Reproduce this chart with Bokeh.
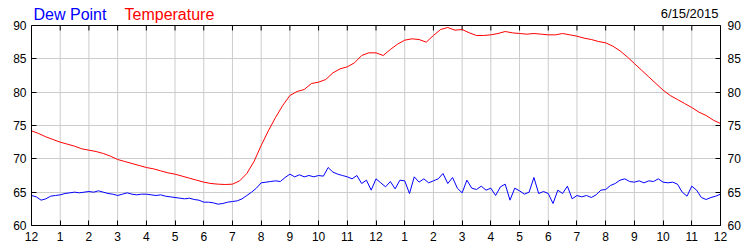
from bokeh.plotting import figure
from bokeh.models import Range1d, LinearAxis, FixedTicker, Span
from bokeh.core.properties import value
from bokeh.embed import file_html
from bokeh.resources import INLINE

# Data
date_label = "6/15/2015"
legend_names = ["Dew Point", "Temperature"]
legend_colors = ["#0000ff", "#ff0000"]
hour_ticks = list(range(0, 25))
hour_tick_labels = ["12", "1", "2", "3", "4", "5", "6", "7", "8", "9", "10", "11",
                    "12", "1", "2", "3", "4", "5", "6", "7", "8", "9", "10", "11", "12"]
temp_ticks = [60, 65, 70, 75, 80, 85, 90]

# Temperature every 15 minutes (hours 0..24)
temp_hours = [i * 0.25 for i in range(97)]
temperature = [
    74.2, 73.8, 73.3, 72.9,
    72.5, 72.2, 71.9, 71.5,
    71.3, 71.1, 70.8, 70.4,
    69.9, 69.6, 69.3, 69.0,
    68.7, 68.5, 68.2, 67.9,
    67.7, 67.4, 67.1, 66.8,
    66.5, 66.3, 66.2, 66.15,
    66.2, 66.7, 67.8, 69.6,
    72.0, 74.2, 76.2, 78.0,
    79.5, 80.1, 80.4, 81.3,
    81.5, 81.9, 82.9, 83.5,
    83.8, 84.4, 85.5, 85.9,
    85.9, 85.5, 86.4, 87.2,
    87.8, 88.0, 87.9, 87.5,
    88.5, 89.4, 89.7, 89.3,
    89.4, 88.9, 88.5, 88.5,
    88.6, 88.8, 89.1, 88.9,
    88.8, 88.7, 88.8, 88.7,
    88.6, 88.6, 88.8, 88.6,
    88.4, 88.1, 87.9, 87.6,
    87.4, 86.9, 86.2, 85.3,
    84.3, 83.3, 82.3, 81.3,
    80.3, 79.5, 78.9, 78.3,
    77.7, 77.0, 76.5, 75.8,
    75.3,
]

# Dew point every 10 minutes (hours 0..24)
dew_hours = [i / 6 for i in range(145)]
dew_point = [
    64.5, 64.3, 63.8, 64.0, 64.4, 64.5,
    64.6, 64.8, 64.9, 65.0, 64.9, 65.0,
    65.1, 65.0, 65.2, 65.0, 64.8, 64.7,
    64.5, 64.7, 64.9, 64.7, 64.6, 64.7,
    64.7, 64.6, 64.5, 64.6, 64.4, 64.3,
    64.2, 64.1, 64.0, 64.1, 63.9, 63.8,
    63.5, 63.5, 63.4, 63.2, 63.3, 63.5,
    63.6, 63.7, 64.0, 64.5, 65.0, 65.6,
    66.4, 66.5, 66.6, 66.7, 66.6, 67.2,
    67.7, 67.3, 67.6, 67.3, 67.5, 67.3,
    67.5, 67.4, 68.7, 68.0, 67.7, 67.5,
    67.3, 67.0, 67.5, 66.3, 66.8, 65.3,
    67.0, 66.4, 65.8, 66.6, 65.5, 66.8,
    66.7, 64.8, 67.3, 66.5, 67.0, 66.4,
    66.7, 67.0, 67.8, 66.3, 67.2, 65.6,
    64.9, 66.8, 65.6, 65.4, 65.9, 65.3,
    65.6, 64.5, 65.8, 66.2, 63.8, 65.6,
    65.2, 64.7, 65.0, 67.2, 64.8, 65.1,
    64.8, 63.3, 65.3, 64.8, 65.9, 64.0,
    64.5, 64.3, 64.5, 64.2, 64.6, 65.3,
    65.4, 66.0, 66.3, 66.8, 67.0, 66.6,
    66.5, 66.7, 66.4, 66.7, 66.6, 67.0,
    66.5, 66.4, 66.5, 66.2, 65.0, 64.4,
    65.9, 65.3, 64.2, 63.9, 64.2, 64.4,
    64.7,
]

FONT = "Liberation Sans"
Y0, Y1 = temp_ticks[0], temp_ticks[-1]
PLOT_H = 200          # pixel height of the 60..90 plot box
HEADER_PX = 25        # header strip above the plot box (inside the frame)
PX = (Y1 - Y0) / PLOT_H   # data units per pixel
y_top = Y1 + HEADER_PX * PX

p = figure(width=750, height=250, output_backend="svg", toolbar_location=None,
           x_range=Range1d(hour_ticks[0], hour_ticks[-1]), y_range=Range1d(Y0, y_top),
           x_axis_location=None, y_axis_location=None,
           min_border_left=31, min_border_right=30, min_border_top=0, min_border_bottom=25)
p.background_fill_color = "white"
p.border_fill_color = "white"
p.outline_line_color = None

overrides = {t: lab for t, lab in zip(hour_ticks, hour_tick_labels)}


def style(ax):
    ax.axis_line_color = "black"
    ax.major_tick_in = 5
    ax.major_tick_out = 0
    ax.minor_tick_in = 0
    ax.minor_tick_out = 0
    ax.major_tick_line_color = "black"
    ax.major_label_text_font = FONT
    ax.major_label_text_font_size = "12px"
    ax.major_label_text_color = "black"
    ax.major_label_standoff = 5


bottom = LinearAxis(ticker=FixedTicker(ticks=hour_ticks), major_label_overrides=overrides)
style(bottom)
bottom.major_label_standoff = 6
left = LinearAxis(ticker=FixedTicker(ticks=temp_ticks), bounds=(Y0, Y1))
style(left)
right = LinearAxis(ticker=FixedTicker(ticks=temp_ticks), bounds=(Y0, Y1))
style(right)
right.major_label_standoff = 7
p.add_layout(bottom, "below")
p.add_layout(left, "left")
p.add_layout(right, "right")

# grid: horizontal lines from the grid model, vertical lines limited to the plot box
p.xgrid.visible = False
p.ygrid.ticker = FixedTicker(ticks=temp_ticks)
p.ygrid.grid_line_color = "#cccccc"
n = len(hour_ticks)
p.segment(x0=hour_ticks, y0=[Y0] * n, x1=hour_ticks, y1=[Y1] * n,
          line_color="#cccccc", line_width=1)

# top edge of the plot box and its inward ticks
p.add_layout(Span(location=Y1, dimension="width", line_color="black", line_width=1))
p.segment(x0=hour_ticks, y0=[Y1] * n, x1=hour_ticks, y1=[Y1 - 5 * PX] * n,
          line_color="black", line_width=1)

p.line(temp_hours, temperature, line_color=legend_colors[1], line_width=1)
p.line(dew_hours, dew_point, line_color=legend_colors[0], line_width=1)

# header texts (inside the frame, above the plot box)
p.text(x=[hour_ticks[0]] * 2, y=[Y1 + 11 * PX] * 2, x_offset=[2, 93], text=legend_names,
       text_color=legend_colors, text_font=value(FONT), text_font_size=value("16px"),
       text_baseline="alphabetic", text_align="left")
p.text(x=[hour_ticks[-1]], y=[Y1 + 12 * PX], x_offset=-2, text=[date_label],
       text_color="black", text_font=value(FONT), text_font_size=value("13px"),
       text_baseline="alphabetic", text_align="right")

open("out.html", "w").write(file_html(p, INLINE))
